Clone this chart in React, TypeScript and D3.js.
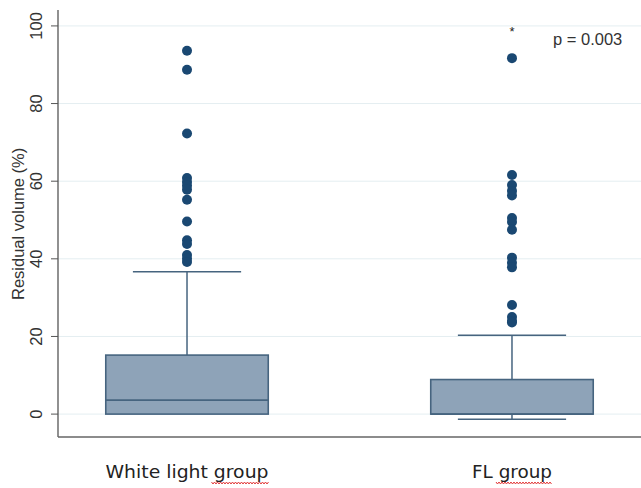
import React from "react";
import * as d3 from "d3";

const categories = ["White light group", "FL group"];
const q1 = [0, 0];
const medians = [3.6, 0];
const q3 = [15.2, 8.9];
const whiskerLow = [0, -1.3];
const whiskerHigh = [36.7, 20.3];
const outliersWhite = [93.6, 88.7, 72.3, 60.8, 59.8, 58.8, 57.8, 55.2, 49.6, 44.8, 43.8, 41, 40, 39.2];
const outliersFL = [91.7, 61.6, 59, 57.5, 56.3, 50.5, 49.5, 47.5, 40.3, 39, 37.8, 28.1, 25, 24, 23.6];
const extremeFL = [99.3];
const yTicks = [0, 20, 40, 60, 80, 100];
const pText = "p = 0.003";
const labelWidths = [163, 80];
const squiggleWidths = [57, 56];

const W = 641;
const H = 488;

export default function App() {
  const x = d3.scalePoint<string>().domain(categories).range([58, 641]).padding(0.397);
  const y = d3.scaleLinear().domain([-5.9, 104.1]).range([437, 10]);
  const step = x.step();
  const boxW = step * 0.5;
  const capW = step * 0.333;
  const outliers = [outliersWhite, outliersFL];
  const boxFill = "#8ea3b8";
  const boxStroke = "#46647f";
  const dotColor = "#1a4872";

  const squiggle = (x0: number, x1: number, yy: number) => {
    const pts: [number, number][] = [];
    let i = 0;
    for (let xx = x0; xx <= x1; xx += 1.5, i++) pts.push([xx, yy + (i % 2 === 0 ? -1 : 1)]);
    return d3.line()(pts) || "";
  };

  return (
    <svg width={W} height={H} style={{ position: "absolute", left: 0, top: 0, background: "#fff" }}>
      {yTicks.map((t) => (
        <line key={"g" + t} x1={58} x2={641} y1={y(t)} y2={y(t)} stroke="#e4eef1" strokeWidth={1} />
      ))}
      <line x1={58} x2={58} y1={10} y2={437} stroke="#555" strokeWidth={1.3} />
      <line x1={58} x2={641} y1={437} y2={437} stroke="#666" strokeWidth={1.5} />
      {yTicks.map((t) => (
        <g key={"t" + t}>
          <line x1={51} x2={58} y1={y(t)} y2={y(t)} stroke="#555" strokeWidth={1} />
          <text
            transform={`translate(${42},${y(t)}) rotate(-90)`}
            textAnchor="middle"
            fontFamily="Liberation Sans, Arial, sans-serif"
            fontSize={16.5}
            fill="#333"
          >
            {t}
          </text>
        </g>
      ))}
      <text
        transform={`translate(${24},${y(49)}) rotate(-90)`}
        textAnchor="middle"
        fontFamily="Liberation Sans, Arial, sans-serif"
        fontSize={16.5}
        fill="#333"
      >
        Residual volume (%)
      </text>
      {categories.map((c, i) => {
        const cx = x(c) as number;
        return (
          <g key={c}>
            <line x1={cx} x2={cx} y1={y(q3[i])} y2={y(whiskerHigh[i])} stroke={boxStroke} strokeWidth={1.5} />
            <line x1={cx - capW / 2} x2={cx + capW / 2} y1={y(whiskerHigh[i])} y2={y(whiskerHigh[i])} stroke={boxStroke} strokeWidth={1.5} />
            {whiskerLow[i] < q1[i] && (
              <>
                <line x1={cx} x2={cx} y1={y(q1[i])} y2={y(whiskerLow[i])} stroke={boxStroke} strokeWidth={1.5} />
                <line x1={cx - capW / 2} x2={cx + capW / 2} y1={y(whiskerLow[i])} y2={y(whiskerLow[i])} stroke={boxStroke} strokeWidth={1.5} />
              </>
            )}
            <rect
              x={cx - boxW / 2}
              y={y(q3[i])}
              width={boxW}
              height={y(q1[i]) - y(q3[i])}
              fill={boxFill}
              stroke={boxStroke}
              strokeWidth={1.6}
            />
            <line x1={cx - boxW / 2} x2={cx + boxW / 2} y1={y(medians[i])} y2={y(medians[i])} stroke={boxStroke} strokeWidth={1.8} />
            {outliers[i].map((v, j) => (
              <circle key={j} cx={cx} cy={y(v)} r={5} fill={dotColor} />
            ))}
            <text
              x={cx}
              y={478}
              textAnchor="middle"
              fontFamily="DejaVu Sans, sans-serif"
              fontSize={17}
              fill="#222"
              textLength={labelWidths[i]}
              lengthAdjust="spacingAndGlyphs"
            >
              {c}
            </text>
            <path
              d={squiggle(cx + labelWidths[i] / 2 - squiggleWidths[i], cx + labelWidths[i] / 2, 483)}
              fill="none"
              stroke="#e23a3a"
              strokeWidth={1}
            />
          </g>
        );
      })}
      {extremeFL.map((v, j) => (
        <text
          key={"e" + j}
          x={x(categories[1]) as number}
          y={y(v) + 7}
          textAnchor="middle"
          fontFamily="Liberation Sans, Arial, sans-serif"
          fontSize={13}
          fill="#222"
        >
          *
        </text>
      ))}
      <text x={553} y={45} fontFamily="Liberation Sans, Arial, sans-serif" fontSize={16.5} fill="#333">
        {pText}
      </text>
    </svg>
  );
}
